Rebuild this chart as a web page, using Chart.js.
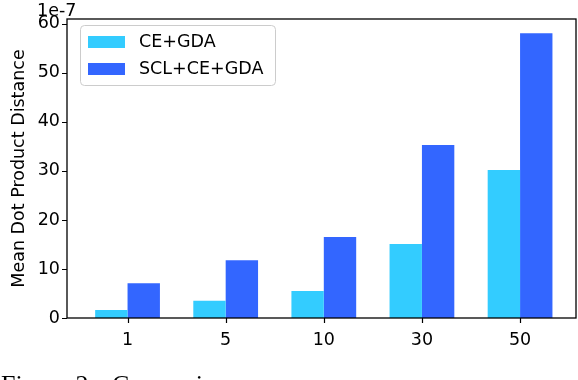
<!DOCTYPE html>
<html>
<head>
<meta charset="utf-8">
<script src="https://cdn.jsdelivr.net/npm/chart.js@4/dist/chart.umd.min.js"></script>
<style>
  html, body { margin: 0; padding: 0; background: #fff; }
  canvas { display: block; }
</style>
</head>
<body>
<canvas id="chart" width="578" height="380"></canvas>
<script>
// data (values in units of 1e-7)
const categories = ["1", "5", "10", "30", "50"];
const ceGda = [1.65, 3.5, 5.5, 15.1, 30.2];
const sclCeGda = [7.1, 11.8, 16.5, 35.3, 58.1];
const yTicks = [0, 10, 20, 30, 40, 50, 60];
const seriesNames = ["CE+GDA", "SCL+CE+GDA"];
const seriesColors = ["#33ccff", "#3366ff"];

Chart.defaults.font.family = "'DejaVu Sans', sans-serif";
Chart.defaults.font.size = 17.5;
Chart.defaults.color = "#000";

// frame, tick marks, legend, offset text and caption
const extras = {
  id: "extras",
  afterDraw(chart) {
    const { ctx, chartArea: a, scales } = chart;
    ctx.save();
    ctx.strokeStyle = "#000";
    ctx.lineWidth = 1.3;
    ctx.strokeRect(a.left, a.top, a.right - a.left, a.bottom - a.top);

    ctx.lineWidth = 1.2;
    ctx.beginPath();
    scales.x.ticks.forEach((t) => {
      const x = Math.round(scales.x.getPixelForValue(t.value)) + 0.5;
      ctx.moveTo(x, a.bottom);
      ctx.lineTo(x, a.bottom + 5);
    });
    scales.y.ticks.forEach((t) => {
      const y = Math.round(scales.y.getPixelForValue(t.value)) + 0.5;
      ctx.moveTo(a.left, y);
      ctx.lineTo(a.left - 5, y);
    });
    ctx.stroke();

    // legend box
    const lx = 80, ly = 25, lw = 195, lh = 60;
    ctx.fillStyle = "rgba(255,255,255,0.8)";
    ctx.strokeStyle = "#cccccc";
    ctx.lineWidth = 1;
    ctx.beginPath();
    ctx.roundRect(lx + 0.5, ly + 0.5, lw, lh, 4);
    ctx.fill();
    ctx.stroke();
    ctx.font = "17.5px 'DejaVu Sans'";
    ctx.textBaseline = "middle";
    chart.data.datasets.forEach((ds, i) => {
      const y = 42 + i * 27;
      ctx.fillStyle = ds.backgroundColor;
      ctx.fillRect(88, y - 6, 37, 12);
      ctx.fillStyle = "#000";
      ctx.fillText(ds.label, 139, y);
    });

    // scale multiplier
    ctx.textBaseline = "alphabetic";
    ctx.fillText("1e-7", 37, 15.5);

    // caption (cut off at the bottom of the image)
    ctx.font = "26px 'Liberation Serif'";
    ctx.fillText("Figure 2:", 1, 392.5);
    ctx.fillText("Comparison", 112, 392.5);
    ctx.restore();
  }
};

new Chart(document.getElementById("chart"), {
  type: "bar",
  data: {
    datasets: [
      {
        label: seriesNames[0],
        data: ceGda.map((v, i) => ({ x: i, y: v })),
        backgroundColor: seriesColors[0],
        borderWidth: 0,
      },
      {
        label: seriesNames[1],
        data: sclCeGda.map((v, i) => ({ x: i, y: v })),
        backgroundColor: seriesColors[1],
        borderWidth: 0,
      },
    ],
  },
  options: {
    responsive: false,
    animation: false,
    categoryPercentage: 0.66,
    barPercentage: 1,
    layout: { padding: { left: 0, right: 2, top: 19, bottom: 32 } },
    plugins: {
      legend: { display: false },
      tooltip: { enabled: false },
    },
    scales: {
      x: {
        type: "linear",
        offset: false,
        min: -0.617,
        max: 4.57,
        border: { display: false },
        grid: { display: false, offset: false, tickLength: 5 },
        ticks: {
          padding: 7,
          callback: (v) => categories[v],
          maxRotation: 0,
        },
        afterBuildTicks: (scale) => {
          scale.ticks = categories.map((c, i) => ({ value: i }));
        },
        afterFit: (scale) => { scale.height = 30; },
      },
      y: {
        min: 0,
        max: 61,
        border: { display: false },
        grid: { display: false, tickLength: 5 },
        ticks: { padding: 2 },
        afterBuildTicks: (scale) => {
          scale.ticks = yTicks.map((v) => ({ value: v }));
        },
        title: {
          display: true,
          text: "Mean Dot Product Distance",
          padding: { top: 9, bottom: 0 },
        },
        afterFit: (scale) => { scale.width = 67; },
      },
    },
  },
  plugins: [extras],
});
</script>
</body>
</html>
